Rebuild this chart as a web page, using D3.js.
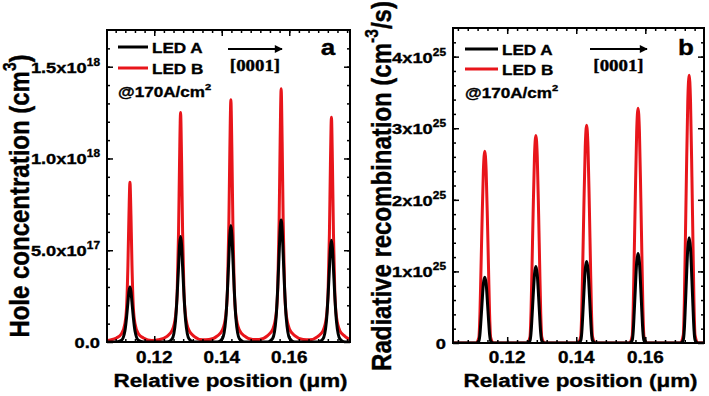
<!DOCTYPE html>
<html>
<head>
<meta charset="utf-8">
<script src="https://cdnjs.cloudflare.com/ajax/libs/d3/7.8.5/d3.min.js"></script>
<style>
  body { margin: 0; background: #fff; }
  text { font-family: "Liberation Sans", Arial, sans-serif; font-weight: bold; stroke: #000; stroke-width: 0.35px; }
</style>
</head>
<body>
<script>
// ---- data ----
// panel a: hole concentration, units of 1e18 cm^-3
var posA = [0.1060,
  0.1063, 0.1088, 0.1103, 0.1113, 0.1118, 0.1122, 0.1125, 0.1128, 0.1131, 0.1134, 0.1138, 0.1143, 0.1153, 0.1168, 0.1193,
  0.1213, 0.1238, 0.1253, 0.1263, 0.1268, 0.1272, 0.1275, 0.1278, 0.1281, 0.1284, 0.1288, 0.1293, 0.1303, 0.1318, 0.1343,
  0.1362, 0.1387, 0.1402, 0.1412, 0.1417, 0.1421, 0.1424, 0.1427, 0.1430, 0.1433, 0.1437, 0.1442, 0.1452, 0.1467, 0.1492,
  0.1511, 0.1536, 0.1551, 0.1561, 0.1566, 0.1570, 0.1573, 0.1576, 0.1579, 0.1582, 0.1586, 0.1591, 0.1601, 0.1616, 0.1641,
  0.1660, 0.1685, 0.1700, 0.1710, 0.1715, 0.1719, 0.1722, 0.1725, 0.1728, 0.1731, 0.1735, 0.1740, 0.1750, 0.1765, 0.1780];
var holeLedA = [0,
  0, 0, 0.009, 0.06, 0.135, 0.216, 0.276, 0.300, 0.276, 0.216, 0.135, 0.06, 0.009, 0, 0,
  0, 0, 0.017, 0.115, 0.26, 0.41, 0.53, 0.575, 0.53, 0.41, 0.26, 0.115, 0.017, 0, 0,
  0, 0, 0.019, 0.127, 0.286, 0.457, 0.584, 0.635, 0.584, 0.457, 0.286, 0.127, 0.019, 0, 0,
  0, 0, 0.020, 0.133, 0.30, 0.48, 0.61, 0.665, 0.61, 0.48, 0.30, 0.133, 0.020, 0, 0,
  0, 0, 0.017, 0.111, 0.25, 0.40, 0.51, 0.555, 0.51, 0.40, 0.25, 0.111, 0.017, 0, 0];
var holeLedB = [0.006,
  0.008, 0.022, 0.045, 0.10, 0.19, 0.42, 0.69, 0.87, 0.69, 0.42, 0.19, 0.10, 0.045, 0.022, 0.008,
  0.012, 0.031, 0.063, 0.14, 0.275, 0.60, 0.99, 1.25, 0.99, 0.60, 0.275, 0.14, 0.063, 0.031, 0.012,
  0.013, 0.033, 0.066, 0.145, 0.29, 0.64, 1.05, 1.32, 1.05, 0.64, 0.29, 0.145, 0.066, 0.033, 0.013,
  0.014, 0.035, 0.069, 0.15, 0.30, 0.66, 1.09, 1.38, 1.09, 0.66, 0.30, 0.15, 0.069, 0.035, 0.014,
  0.012, 0.031, 0.061, 0.135, 0.27, 0.59, 0.97, 1.225, 0.97, 0.59, 0.27, 0.135, 0.061, 0.031, 0.012];

// panel b: radiative recombination, units of 1e25 cm^-3/s
var posB = [0.1043,
  0.1110, 0.1118, 0.1121, 0.1124, 0.1127, 0.1131, 0.1135, 0.1139, 0.1143, 0.1146, 0.1149, 0.1152, 0.1160,
  0.1258, 0.1266, 0.1269, 0.1272, 0.1275, 0.1279, 0.1283, 0.1287, 0.1291, 0.1294, 0.1297, 0.1300, 0.1308,
  0.1405, 0.1413, 0.1416, 0.1419, 0.1422, 0.1426, 0.1430, 0.1434, 0.1438, 0.1441, 0.1444, 0.1447, 0.1455,
  0.1554, 0.1562, 0.1565, 0.1568, 0.1571, 0.1575, 0.1579, 0.1583, 0.1587, 0.1590, 0.1593, 0.1596, 0.1604,
  0.1702, 0.1710, 0.1713, 0.1716, 0.1719, 0.1723, 0.1727, 0.1731, 0.1735, 0.1738, 0.1741, 0.1744, 0.1752,
  0.1770];
var recLedA = [0,
  0, 0.028, 0.12, 0.32, 0.55, 0.83, 0.92, 0.83, 0.55, 0.32, 0.12, 0.028, 0,
  0, 0.032, 0.14, 0.375, 0.64, 0.96, 1.07, 0.96, 0.64, 0.375, 0.14, 0.032, 0,
  0, 0.034, 0.148, 0.40, 0.684, 1.03, 1.14, 1.03, 0.684, 0.40, 0.148, 0.034, 0,
  0, 0.038, 0.163, 0.44, 0.75, 1.125, 1.25, 1.125, 0.75, 0.44, 0.163, 0.038, 0,
  0, 0.044, 0.19, 0.515, 0.88, 1.32, 1.47, 1.32, 0.88, 0.515, 0.19, 0.044, 0,
  0];
var recLedB = [0,
  0, 0.08, 0.40, 1.02, 1.66, 2.41, 2.68, 2.41, 1.66, 1.02, 0.40, 0.08, 0,
  0, 0.087, 0.435, 1.10, 1.80, 2.61, 2.90, 2.61, 1.80, 1.10, 0.435, 0.087, 0,
  0, 0.09, 0.456, 1.155, 1.885, 2.736, 3.04, 2.736, 1.885, 1.155, 0.456, 0.09, 0,
  0, 0.098, 0.49, 1.25, 2.03, 2.95, 3.28, 2.95, 2.03, 1.25, 0.49, 0.098, 0,
  0, 0.112, 0.56, 1.42, 2.32, 3.37, 3.74, 3.37, 2.32, 1.42, 0.56, 0.112, 0,
  0];

// tick labels
var xTicks = [0.12, 0.14, 0.16];
var xTickText = ["0.12", "0.14", "0.16"];
var holeTicks = [0, 0.5, 1.0, 1.5];
var holeTickText = [["0.0", ""], ["5.0x10", "17"], ["1.0x10", "18"], ["1.5x10", "18"]];
var recTicks = [0, 1, 2, 3, 4];
var recTickText = [["0", ""], ["1x10", "25"], ["2x10", "25"], ["3x10", "25"], ["4x10", "25"]];
var legendNames = ["LED A", "LED B"];

var red = "#e8151b";
var sx = 1.18; // the figure is stretched horizontally

var svg = d3.select("body").append("svg")
    .attr("width", 709)
    .attr("height", 396);

// text helper: optional superscript, horizontal stretch, optional rotation
function label(g, x, y, main, sup, tail, size, anchor, rot, family) {
    var t = g.append("text")
        .attr("transform", "translate(" + x + "," + y + ") scale(" + sx + ",1)" + (rot ? " rotate(" + rot + ")" : ""))
        .style("font-size", size + "px")
        .style("text-anchor", anchor || "start");
    if (family) t.style("font-family", family);
    t.append("tspan").text(main);
    if (sup) {
        t.append("tspan").attr("dy", -size * 0.45).style("font-size", (size * 0.65) + "px").text(sup);
        if (tail) t.append("tspan").attr("dy", size * 0.45).text(tail);
    }
    return t;
}

var panels = [
  {left: 107, right: 350, top: 30, bottom: 342, xd: [0.106, 0.178], yd: [0, 1.7],
   pos: posA, a: holeLedA, b: holeLedB, yt: holeTicks, ytt: holeTickText, yminor: 0.1,
   title: ["Hole concentration (cm", "3", ")"], titleX: 29, titleY: 196,
   leg: [118, 148, 47, 68], note: [118, 97], arrow: [228, 282, 49], letter: "a", letterX: 328},
  {left: 453, right: 704, top: 28, bottom: 343, xd: [0.1043, 0.177], yd: [0, 4.4],
   pos: posB, a: recLedA, b: recLedB, yt: recTicks, ytt: recTickText, yminor: 0.2,
   title: ["Radiative recombination (cm", "-3", "/s)"], titleX: 391, titleY: 186,
   leg: [465, 498, 49, 69], note: [465, 98], arrow: [590, 647, 49], letter: "b", letterX: 686}
];

svg.append("defs").append("marker")
    .attr("id", "head")
    .attr("viewBox", "0 0 10 10")
    .attr("refX", 9).attr("refY", 5)
    .attr("markerWidth", 5).attr("markerHeight", 4)
    .attr("markerUnits", "strokeWidth")
    .attr("orient", "auto")
  .append("path").attr("d", "M0,0 L10,5 L0,10 Z").attr("fill", "#000");

panels.forEach(function(p, i) {
    var x = d3.scaleLinear().domain(p.xd).range([p.left, p.right]);
    var y = d3.scaleLinear().domain(p.yd).range([p.bottom, p.top]);
    var g = svg.append("g");

    var clipId = "clip" + i;
    svg.select("defs").append("clipPath").attr("id", clipId)
      .append("rect").attr("x", p.left).attr("y", p.top - 2)
      .attr("width", p.right - p.left).attr("height", p.bottom - p.top + 2);

    var line = function(vals) {
        return d3.line()
            .x(function(d, k) { return x(p.pos[k]); })
            .y(function(d) { return y(d); })
            .curve(d3.curveMonotoneX)(vals);
    };
    var lines = g.append("g").attr("clip-path", "url(#" + clipId + ")");
    lines.append("path").attr("d", line(p.b)).attr("fill", "none")
        .attr("stroke", red).attr("stroke-width", 3).attr("stroke-linejoin", "round");
    lines.append("path").attr("d", line(p.a)).attr("fill", "none")
        .attr("stroke", "#000").attr("stroke-width", 3).attr("stroke-linejoin", "round");

    // minor / major ticks, pointing inward on all four sides
    var step = 0.02 / 7;
    var xMinor = d3.range(-12, 30).map(function(k) { return 0.12 + k * step; })
        .filter(function(v) { return v > p.xd[0] && v < p.xd[1]; });
    var yMinor = d3.range(0, 60).map(function(k) { return k * p.yminor; })
        .filter(function(v) { return v > p.yd[0] && v < p.yd[1]; });

    function axes(xt, yt, len) {
        g.append("g").attr("transform", "translate(0," + p.bottom + ")")
            .call(d3.axisBottom(x).tickValues(xt).tickSize(-len).tickFormat(""));
        g.append("g").attr("transform", "translate(0," + p.top + ")")
            .call(d3.axisTop(x).tickValues(xt).tickSize(-len).tickFormat(""));
        g.append("g").attr("transform", "translate(" + p.left + ",0)")
            .call(d3.axisLeft(y).tickValues(yt).tickSize(-len).tickFormat(""));
        g.append("g").attr("transform", "translate(" + p.right + ",0)")
            .call(d3.axisRight(y).tickValues(yt).tickSize(-len).tickFormat(""));
    }
    axes(xMinor, yMinor, 3);
    axes(xTicks, p.yt, 6);
    g.selectAll(".domain").remove();
    g.selectAll(".tick line").attr("stroke", "#000").attr("stroke-width", 1.5);

    g.append("rect")
        .attr("x", p.left).attr("y", p.top)
        .attr("width", p.right - p.left).attr("height", p.bottom - p.top)
        .attr("fill", "none").attr("stroke", "#000").attr("stroke-width", 2);

    // tick labels
    xTicks.forEach(function(v, k) {
        label(g, x(v), 363, xTickText[k], "", "", 16, "middle");
    });
    p.yt.forEach(function(v, k) {
        var t = p.ytt[k];
        label(g, p.left - 7, y(v) + 6, t[0], t[1], "", 15.5, "end");
    });

    // axis titles
    label(g, (p.left + p.right) / 2 + 2, 387, "Relative position (\u03bcm)", "", "", 19, "middle");
    label(g, p.titleX, p.titleY, p.title[0], p.title[1], p.title[2], 24, "middle", -90);

    // legend
    [p.leg[2], p.leg[3]].forEach(function(ly, k) {
        g.append("line").attr("x1", p.leg[0]).attr("x2", p.leg[1])
            .attr("y1", ly).attr("y2", ly)
            .attr("stroke", k === 0 ? "#000" : red).attr("stroke-width", 3);
        label(g, p.leg[1] + 4, ly + 5.5, legendNames[k], "", "", 14.5, "start");
    });
    label(g, p.note[0], p.note[1], "@170A/cm", "2", "", 14.5, "start");

    // growth direction
    g.append("line")
        .attr("x1", p.arrow[0]).attr("x2", p.arrow[1])
        .attr("y1", p.arrow[2]).attr("y2", p.arrow[2])
        .attr("stroke", "#000").attr("stroke-width", 2)
        .attr("marker-end", "url(#head)");
    label(g, (p.arrow[0] + p.arrow[1]) / 2, 71, "[0001]", "", "", 16, "middle", 0,
          "'Liberation Serif', 'Times New Roman', serif");

    label(g, p.letterX, 55, p.letter, "", "", 22, "middle");
});
</script>
</body>
</html>
